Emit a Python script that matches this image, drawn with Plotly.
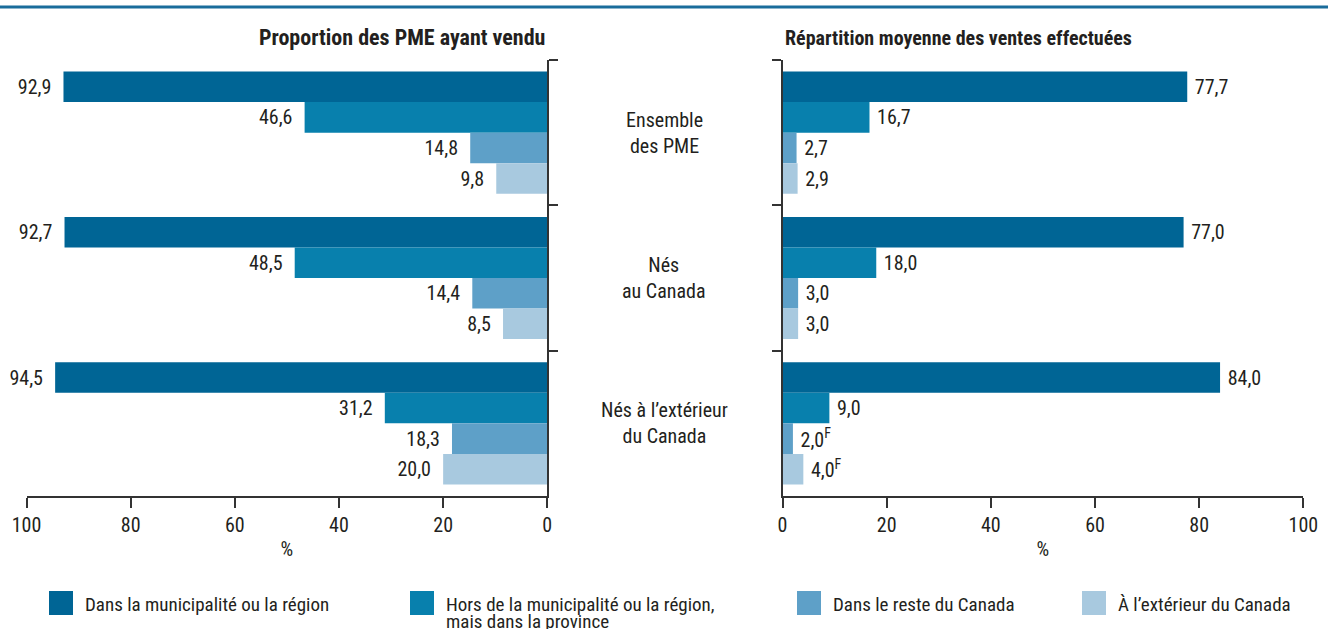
import plotly.graph_objects as go

# Données
groups = ["Ensemble<br>des PME", "Nés<br>au Canada", "Nés à l’extérieur<br>du Canada"]
series = [
    "Dans la municipalité ou la région",
    "Hors de la municipalité ou la région,<br>mais dans la province",
    "Dans le reste du Canada",
    "À l’extérieur du Canada",
]
colors = ["#006595", "#0880ad", "#5ea0c8", "#a8c9df"]

# Proportion des PME ayant vendu (%)
prop_vendu = [
    [92.9, 92.7, 94.5],
    [46.6, 48.5, 31.2],
    [14.8, 14.4, 18.3],
    [9.8, 8.5, 20.0],
]
# Répartition moyenne des ventes effectuées (%)
repartition = [
    [77.7, 77.0, 84.0],
    [16.7, 18.0, 9.0],
    [2.7, 3.0, 2.0],
    [2.9, 3.0, 4.0],
]
# Estimations à utiliser avec prudence (F)
repartition_flag = [
    ["", "", ""],
    ["", "", ""],
    ["", "", "F"],
    ["", "", "F"],
]

xticks = [0, 20, 40, 60, 80, 100]
title_left = "Proportion des PME ayant vendu"
title_right = "Répartition moyenne des ventes effectuées"

FONT = "Liberation Sans Narrow, Arial Narrow, Roboto Condensed, DejaVu Sans Condensed, sans-serif"
TXT = "#231f20"
AX = "#333333"
NB = "\u00a0"

W, H = 1328, 629
TOP, BOT = 60, 496


def fr(v):
    return f"{v:.1f}".replace(".", ",")


def py(ypix):
    """pixel row -> paper y"""
    return (BOT - ypix) / (BOT - TOP)


fig = go.Figure()

for i, name in enumerate(series):
    fig.add_trace(go.Bar(
        y=groups, x=prop_vendu[i], orientation="h",
        marker=dict(color=colors[i], line=dict(width=0)),
        text=[fr(v) + NB + NB for v in prop_vendu[i]],
        textposition="outside", cliponaxis=False, constraintext="none",
        textfont=dict(family=FONT, size=20, color=TXT),
        xaxis="x", yaxis="y", showlegend=False, name=name,
    ))
    fig.add_trace(go.Bar(
        y=groups, x=repartition[i], orientation="h",
        marker=dict(color=colors[i], line=dict(width=0)),
        text=[NB + fr(v) + (f"<sup>{f}</sup>" if f else "")
              for v, f in zip(repartition[i], repartition_flag[i])],
        textposition="outside", cliponaxis=False, constraintext="none",
        textfont=dict(family=FONT, size=20, color=TXT),
        xaxis="x2", yaxis="y2", showlegend=False, name=name,
    ))

xcommon = dict(
    tickvals=xticks, ticks="outside", ticklen=10, tickwidth=1.5,
    tickcolor=AX, showline=True, linecolor=AX, linewidth=1.5, showgrid=False,
    zeroline=False, automargin=False, tickfont=dict(family=FONT, size=20, color=TXT),
    title=dict(text="%", font=dict(family=FONT, size=20, color=TXT), standoff=6),
)
ycommon = dict(
    type="category", range=[2.5, -0.5], tickson="boundaries", ticks="outside",
    ticklen=9, tickwidth=1.5, tickcolor=AX, showline=True, linecolor=AX,
    linewidth=1.5, showticklabels=False, showgrid=False, zeroline=False,
    automargin=False,
)

fig.update_layout(
    width=W, height=H,
    margin=dict(l=0, r=0, t=TOP, b=H - BOT, autoexpand=False),
    paper_bgcolor="white", plot_bgcolor="white",
    barmode="group", bargap=0.159, bargroupgap=0,
    font=dict(family=FONT, size=20, color=TXT),
    xaxis=dict(xcommon, domain=[26.5 / W, 547.3 / W], range=[100, 0], anchor="y"),
    yaxis=dict(ycommon, side="right", anchor="x"),
    xaxis2=dict(xcommon, domain=[782.5 / W, 1303.4 / W], range=[0, 100], anchor="y2"),
    yaxis2=dict(ycommon, side="left", anchor="x2"),
)

# Titres des panneaux
fig.add_annotation(text=f"<b>{title_left}</b>", xref="paper", yref="paper",
                   x=547.3 / W, y=py(38), xanchor="right", yanchor="middle",
                   showarrow=False, font=dict(family=FONT, size=22, color=TXT))
fig.add_annotation(text=f"<b>{title_right}</b>", xref="paper", yref="paper",
                   x=782.5 / W, y=py(38), xanchor="left", yanchor="middle",
                   showarrow=False, font=dict(family=FONT, size=20, color=TXT))

# Libellés des groupes au centre
for g in groups:
    fig.add_annotation(text=g, xref="paper", yref="y", x=664 / W, y=g,
                       xanchor="center", yanchor="middle", showarrow=False,
                       font=dict(family=FONT, size=20, color=TXT))

# Filet supérieur
fig.add_shape(type="line", xref="paper", yref="paper", x0=0, x1=1,
              y0=py(7), y1=py(7), line=dict(color="#1a6c9b", width=3))

# Légende
leg_x = [49, 410, 797, 1082]
for i, name in enumerate(series):
    x0 = leg_x[i]
    fig.add_shape(type="rect", xref="paper", yref="paper",
                  x0=x0 / W, x1=(x0 + 24) / W, y0=py(615), y1=py(591),
                  fillcolor=colors[i], line=dict(width=0))
    for k, line in enumerate(name.split("<br>")):
        fig.add_annotation(text=line, xref="paper", yref="paper",
                           x=(x0 + 34) / W, y=py(604 + 17 * k),
                           xanchor="left", yanchor="middle", showarrow=False,
                           font=dict(family=FONT, size=19, color=TXT))

fig.write_html("out.html")
